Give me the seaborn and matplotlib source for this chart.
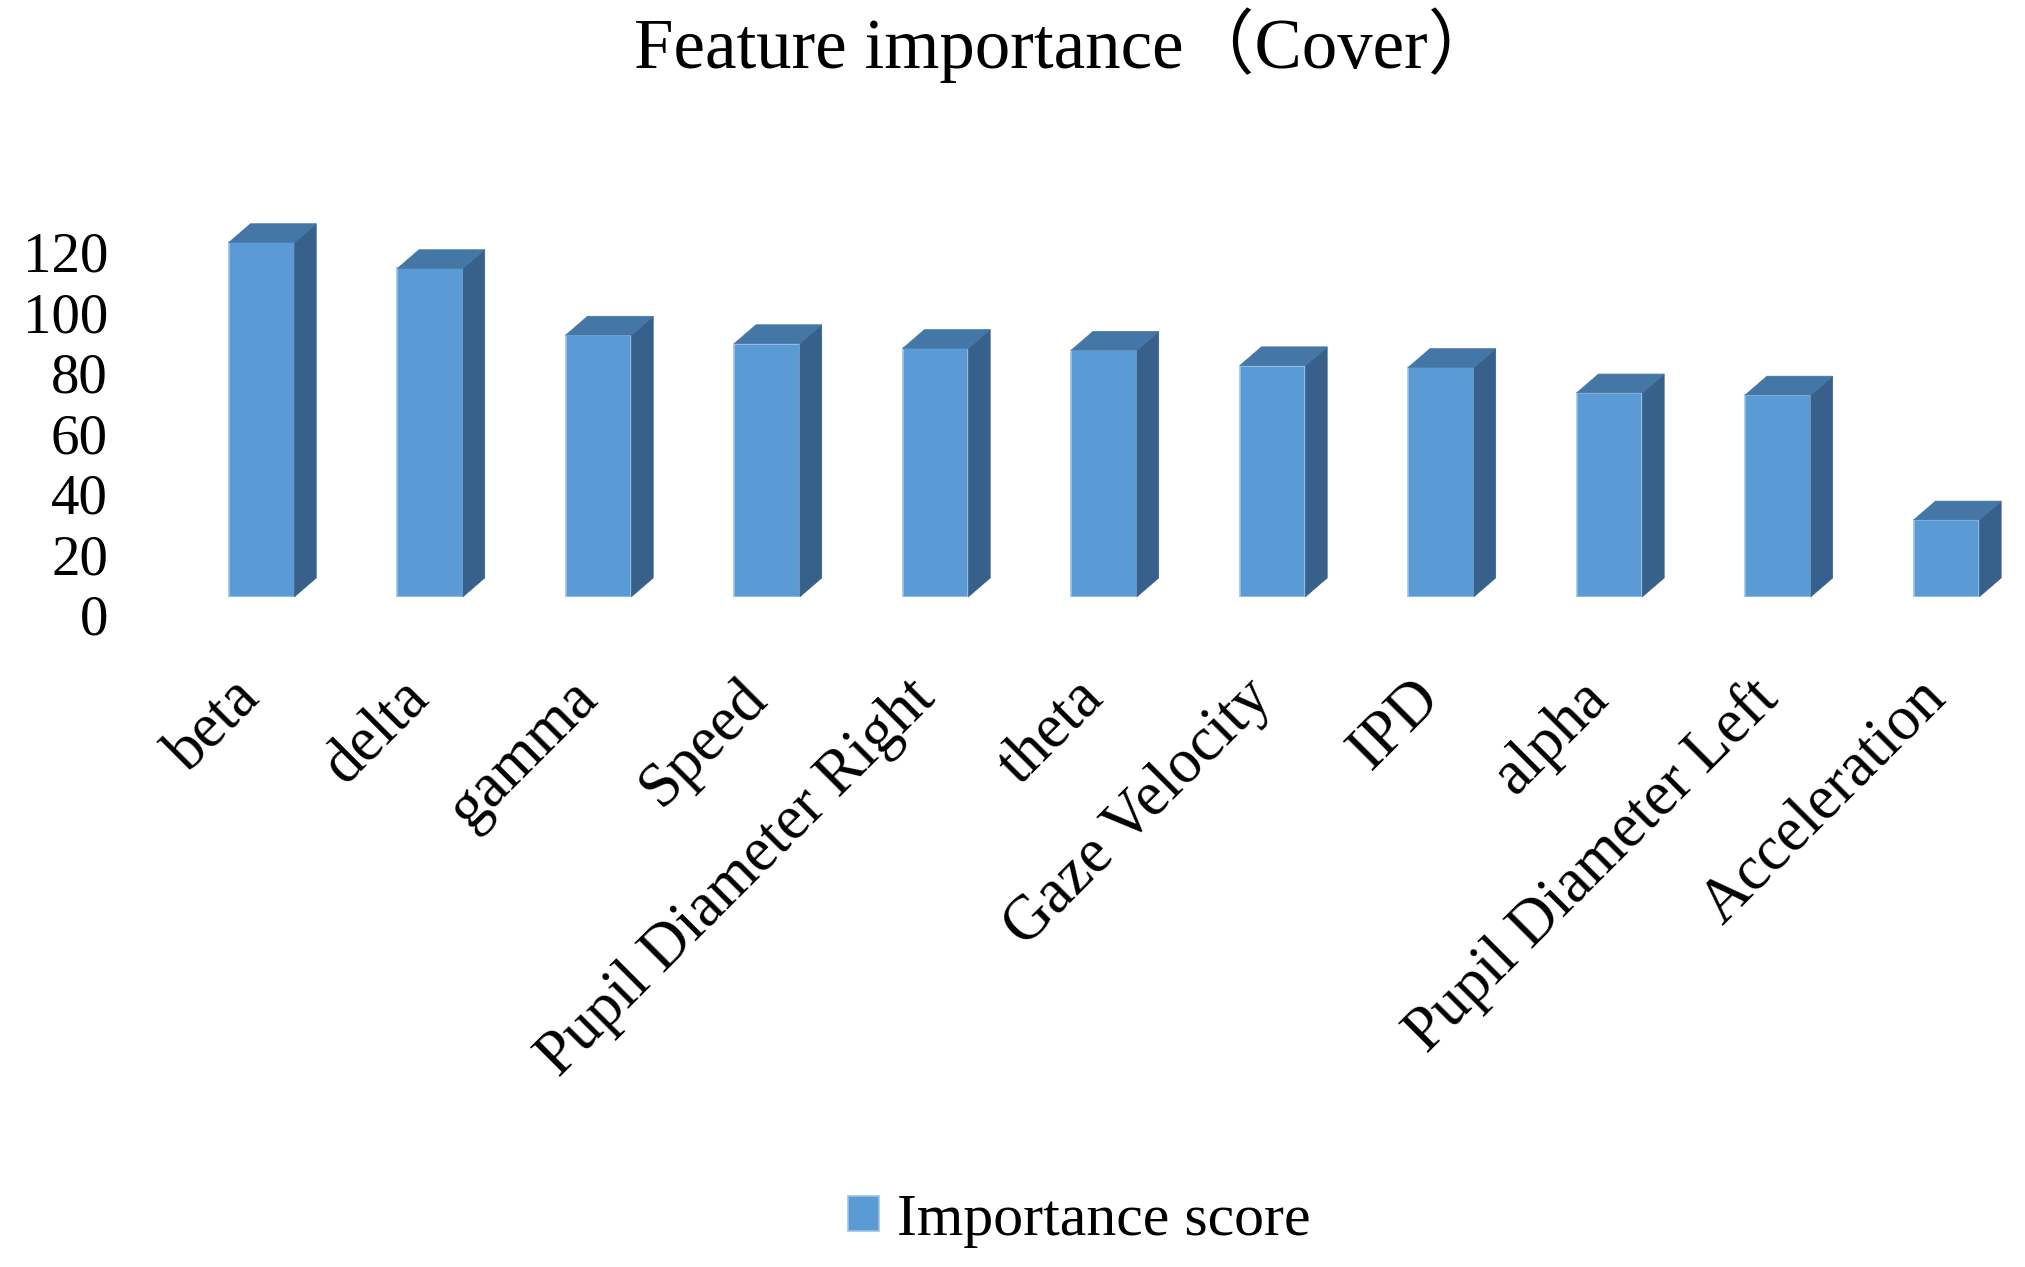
import matplotlib
matplotlib.use("Agg")
import matplotlib.pyplot as plt
import seaborn as sns
import pandas as pd
from matplotlib.patches import Polygon
from matplotlib.transforms import ScaledTranslation

# ---- data ----
features = ["beta", "delta", "gamma", "Speed", "Pupil Diameter Right", "theta",
            "Gaze Velocity", "IPD", "alpha", "Pupil Diameter Left", "Acceleration"]
scores = [117.1, 108.5, 86.5, 83.7, 82.1, 81.5, 76.4, 75.8, 67.4, 66.7, 25.4]
yticks = [0, 20, 40, 60, 80, 100, 120]
title = "Feature importance\uff08Cover\uff09"
series_label = "Importance score"

FRONT = "#5B9BD5"
SIDE = "#37618A"
TOP = "#4476A6"
EDGE = "#9CC2E8"

sns.set_theme(style="white")
serif = ["Liberation Serif", "Noto Sans CJK SC", "DejaVu Sans"]
plt.rcParams["font.family"] = serif
plt.rcParams["text.color"] = "black"
plt.rcParams["xtick.color"] = "black"
plt.rcParams["ytick.color"] = "black"

W, H, DPI = 2025, 1267, 100
fig = plt.figure(figsize=(W / DPI, H / DPI), dpi=DPI)
ax = fig.add_axes([177.4 / W, (H - 596.7) / H, 1845 / W, 130 * 3.025 / H])

df = pd.DataFrame({"feature": features, "score": scores})
sns.barplot(data=df, x="feature", y="score", color=FRONT, width=0.39,
            saturation=1, ax=ax, label=series_label,
            edgecolor=EDGE, linewidth=1.2)
ax.set_xlim(-0.5, 10.45)
ax.set_ylim(0, 130)

# 3D-style depth faces derived from each bar
dx, dy = 0.129, 6.2
bars = list(ax.patches)
for p in bars:
    x0, w, h = p.get_x(), p.get_width(), p.get_height()
    x1 = x0 + w
    side = Polygon([(x1, 0), (x1 + dx, dy), (x1 + dx, h + dy), (x1, h)],
                   closed=True, facecolor=SIDE, edgecolor=SIDE, lw=0.5,
                   clip_on=False, zorder=2)
    top = Polygon([(x0, h), (x0 + dx, h + dy), (x1 + dx, h + dy), (x1, h)],
                  closed=True, facecolor=TOP, edgecolor=TOP, lw=0.5,
                  clip_on=False, zorder=2)
    ax.add_patch(side)
    ax.add_patch(top)

for s in ax.spines.values():
    s.set_visible(False)
ax.set_xlabel("")
ax.set_ylabel("")
ax.set_yticks(yticks)
ax.set_yticklabels([str(v) for v in yticks])
ax.tick_params(axis="y", length=0, pad=50, labelsize=41, labelcolor="black")
ax.tick_params(axis="x", length=0, pad=52, labelsize=45, labelcolor="black")
for lab in ax.get_yticklabels():
    lab.set_transform(lab.get_transform() + ScaledTranslation(0, -0.18, fig.dpi_scale_trans))
for lab in ax.get_xticklabels():
    lab.set_rotation(45)
    lab.set_ha("right")
    lab.set_va("top")
    lab.set_rotation_mode("anchor")
    lab.set_transform(lab.get_transform() + ScaledTranslation(-0.30, 0, fig.dpi_scale_trans))

handles, labels = ax.get_legend_handles_labels()
if ax.get_legend() is not None:
    ax.get_legend().remove()
leg = fig.legend(handles[:1], labels[:1], loc="center", bbox_to_anchor=(1079 / W, 1 - 1221 / H),
                 frameon=False, fontsize=43, handlelength=0.52, handleheight=0.52,
                 handletextpad=0.3)
for t in leg.get_texts():
    t.set_color("black")

fig.text(1066 / W, 1 - 45 / H, title, ha="center", va="center", fontsize=51, color="black")

fig.savefig("out.png", dpi=DPI, facecolor="white")
